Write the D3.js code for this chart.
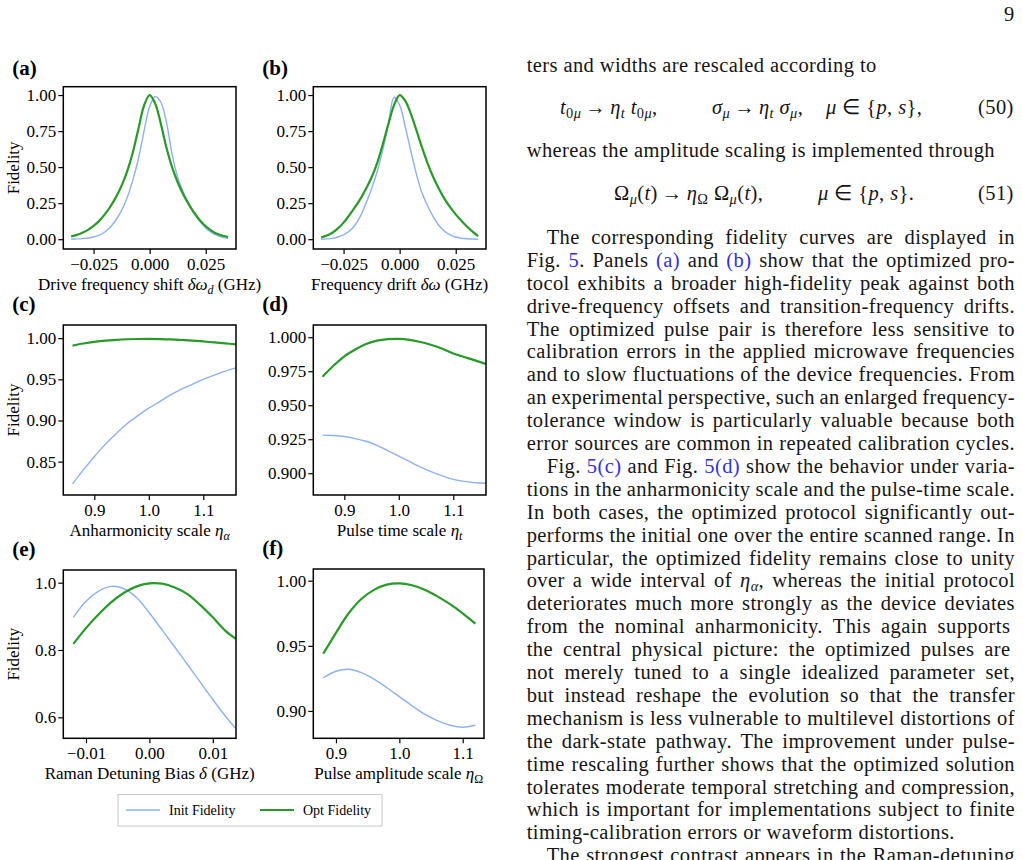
<!DOCTYPE html>
<html lang="en">
<head>
<meta charset="UTF-8" />
<script src="https://d3js.org/d3.v7.min.js"></script>
<title>Fidelity robustness scans</title>
<style>
  body { margin: 0; background: #fff; }
  #page { position: relative; width: 1023px; height: 860px; overflow: hidden; background: #fff; }
  svg { position: absolute; left: 0; top: 0; }
  .txt { position: absolute; font-family: "Liberation Serif", serif; font-size: 20.5px; letter-spacing: 0.4px;
         color: #151515; white-space: nowrap; line-height: 20px; }
  .lnk { color: #2f2fe6; }
  .sb { font-size: 0.7em; vertical-align: -0.25em; line-height: 0; }
  .ar { margin: 0 4px; }
</style>
</head>
<body>
<div id="page"></div>
<script>
// ---------------- data ----------------
// (a), (b): frequency offsets in GHz
const xAB = [-0.035, -0.0325, -0.03, -0.0275, -0.025, -0.0225, -0.02, -0.0175, -0.015, -0.0125, -0.01, -0.0075, -0.005, -0.0025,
  0, 0.0025, 0.005, 0.0075, 0.01, 0.0125, 0.015, 0.0175, 0.02, 0.0225, 0.025, 0.0275, 0.03, 0.0325, 0.035]
const initA = [0.000, 0.002, 0.004, 0.008, 0.015, 0.028, 0.05, 0.085, 0.135, 0.20, 0.29, 0.41, 0.56, 0.75,
  0.92, 0.99, 0.95, 0.81, 0.59, 0.43, 0.325, 0.245, 0.175, 0.12, 0.078, 0.047, 0.026, 0.013, 0.006]
const optA = [0.02, 0.03, 0.045, 0.065, 0.092, 0.127, 0.172, 0.227, 0.292, 0.372, 0.472, 0.602, 0.767, 0.927,
  1.00, 0.94, 0.80, 0.635, 0.50, 0.395, 0.31, 0.24, 0.18, 0.13, 0.09, 0.06, 0.037, 0.024, 0.015]
const initB = [0.000, 0.002, 0.006, 0.015, 0.03, 0.055, 0.095, 0.16, 0.25, 0.35, 0.47, 0.62, 0.80, 0.985,
  0.93, 0.78, 0.61, 0.45, 0.32, 0.23, 0.155, 0.095, 0.055, 0.03, 0.015, 0.007, 0.003, 0.001, 0.000]
const optB = [0.012, 0.025, 0.045, 0.075, 0.115, 0.165, 0.22, 0.28, 0.35, 0.43, 0.53, 0.66, 0.80, 0.93,
  1.00, 0.96, 0.87, 0.755, 0.635, 0.525, 0.43, 0.35, 0.28, 0.222, 0.172, 0.128, 0.088, 0.052, 0.022]

// (c), (d): scale factors
const xCD = [0.86, 0.88, 0.90, 0.92, 0.94, 0.96, 0.98, 1.00, 1.02, 1.04, 1.06, 1.08, 1.10, 1.12, 1.14, 1.16]
const initC = [0.823, 0.840, 0.856, 0.871, 0.884, 0.896, 0.906, 0.915, 0.923, 0.931, 0.938, 0.944, 0.950, 0.955, 0.960, 0.964]
const optC = [0.991, 0.9935, 0.9955, 0.997, 0.998, 0.9987, 0.999, 0.9991, 0.9989, 0.9985, 0.9978, 0.997, 0.996, 0.9948, 0.9937, 0.9925]
const initD = [0.928, 0.9278, 0.927, 0.9255, 0.9235, 0.9205, 0.9165, 0.9125, 0.9085, 0.9045, 0.901, 0.898, 0.8955, 0.894, 0.893, 0.8926]
const optD = [0.971, 0.979, 0.986, 0.991, 0.995, 0.9975, 0.9986, 0.9988, 0.998, 0.9965, 0.9943, 0.9915, 0.988, 0.9855, 0.983, 0.9803]

// (e): Raman detuning bias in GHz
const xE = [-0.012, -0.010, -0.008, -0.006, -0.004, -0.002, 0, 0.002, 0.004, 0.006, 0.008, 0.010, 0.012, 0.0136]
const initE = [0.897, 0.945, 0.975, 0.989, 0.982, 0.955, 0.910, 0.860, 0.809, 0.757, 0.705, 0.653, 0.603, 0.567]
const optE = [0.818, 0.865, 0.906, 0.942, 0.970, 0.989, 0.998, 0.997, 0.986, 0.966, 0.934, 0.897, 0.857, 0.834]

// (f): amplitude scale
const xF = [0.88, 0.90, 0.92, 0.94, 0.96, 0.98, 1.00, 1.02, 1.04, 1.06, 1.08, 1.10, 1.12]
const initF = [0.9255, 0.9305, 0.932, 0.9295, 0.9245, 0.918, 0.911, 0.904, 0.8975, 0.8925, 0.889, 0.8875, 0.889]
const optF = [0.944, 0.960, 0.975, 0.986, 0.993, 0.997, 0.998, 0.9965, 0.993, 0.988, 0.982, 0.975, 0.967]

// tick values / labels
const tickXAB = [-0.025, 0, 0.025], labXAB = ["\u22120.025", "0.000", "0.025"]
const tickYAB = [0, 0.25, 0.5, 0.75, 1], labYAB = ["0.00", "0.25", "0.50", "0.75", "1.00"]
const tickXScale = [0.9, 1.0, 1.1], labXScale = ["0.9", "1.0", "1.1"]
const tickYC = [0.85, 0.9, 0.95, 1.0], labYC = ["0.85", "0.90", "0.95", "1.00"]
const tickYD = [0.9, 0.925, 0.95, 0.975, 1.0], labYD = ["0.900", "0.925", "0.950", "0.975", "1.000"]
const tickXE = [-0.01, 0, 0.01], labXE = ["\u22120.01", "0.00", "0.01"]
const tickYE = [0.6, 0.8, 1.0], labYE = ["0.6", "0.8", "1.0"]
const tickYF = [0.9, 0.95, 1.0], labYF = ["0.90", "0.95", "1.00"]

const seriesNames = ["Init Fidelity", "Opt Fidelity"]
const panelTags = ["(a)", "(b)", "(c)", "(d)", "(e)", "(f)"]

// ---------------- layout ----------------
const W = 1023, H = 860
const blue = "#8cb2f2", green = "#279a27"
const serif = "'Liberation Serif', 'Times New Roman', serif"

const panels = [
  { x0: 63.3, x1: 236, y0: 86.7, y1: 249, xd: [-0.0385, 0.0385], yd: [-0.068, 1.058], xs: xAB, init: initA, opt: optA,
    xt: tickXAB, xl: labXAB, yt: tickYAB, yl: labYAB, ylab: true,
    xlabel: [["Drive frequency shift "], ["\u03b4\u03c9", "i"], ["d", "is"], [" (GHz)"]] },
  { x0: 313.3, x1: 486, y0: 86.7, y1: 249, xd: [-0.0385, 0.0385], yd: [-0.068, 1.058], xs: xAB, init: initB, opt: optB,
    xt: tickXAB, xl: labXAB, yt: tickYAB, yl: labYAB, ylab: false,
    xlabel: [["Frequency drift "], ["\u03b4\u03c9", "i"], [" (GHz)"]] },
  { x0: 63.3, x1: 236, y0: 325, y1: 495, xd: [0.8431, 1.16], yd: [0.8095, 1.016], xs: xCD, init: initC, opt: optC,
    xt: tickXScale, xl: labXScale, yt: tickYC, yl: labYC, ylab: true,
    xlabel: [["Anharmonicity scale "], ["\u03b7", "i"], ["\u03b1", "is"]] },
  { x0: 313.3, x1: 486, y0: 325, y1: 495, xd: [0.8431, 1.16], yd: [0.884, 1.009], xs: xCD, init: initD, opt: optD,
    xt: tickXScale, xl: labXScale, yt: tickYD, yl: labYD, ylab: false,
    xlabel: [["Pulse time scale "], ["\u03b7", "i"], ["t", "is"]] },
  { x0: 63.3, x1: 236, y0: 570, y1: 738.3, xd: [-0.01358, 0.01366], yd: [0.5376, 1.0377], xs: xE, init: initE, opt: optE,
    xt: tickXE, xl: labXE, yt: tickYE, yl: labYE, ylab: true,
    xlabel: [["Raman Detuning Bias "], ["\u03b4", "i"], [" (GHz)"]] },
  { x0: 313.3, x1: 484, y0: 569, y1: 738.3, xd: [0.8642, 1.1336], yd: [0.879, 1.009], xs: xF, init: initF, opt: optF,
    xt: tickXScale, xl: labXScale, yt: tickYF, yl: labYF, ylab: false,
    xlabel: [["Pulse amplitude scale "], ["\u03b7", "i"], ["\u03a9", "s"]] },
]

const page = d3.select("#page")
const svg = page.append("svg").attr("width", W).attr("height", H)

function addRich(text, parts, subSize) {
  let shifted = false
  parts.forEach(([t, f = ""]) => {
    const ts = text.append("tspan").text(t)
    if (f.includes("i")) ts.attr("font-style", "italic")
    if (f.includes("s")) {
      ts.attr("font-size", subSize)
      if (!shifted) { ts.attr("dy", 4); shifted = true }
    } else if (shifted) { ts.attr("dy", -4); shifted = false }
  })
}

panels.forEach((p, k) => {
  const x = d3.scaleLinear().domain(p.xd).range([p.x0, p.x1])
  const y = d3.scaleLinear().domain(p.yd).range([p.y1, p.y0])
  const g = svg.append("g")

  const styleAxis = a => {
    a.select(".domain").remove()
    a.attr("font-family", serif).attr("font-size", 17)
    a.selectAll(".tick line").attr("stroke", "#000").attr("stroke-width", 1.2)
    a.selectAll(".tick text").attr("fill", "#000")
  }
  g.append("g").attr("transform", `translate(0,${p.y1})`)
    .call(d3.axisBottom(x).tickValues(p.xt).tickFormat((d, i) => p.xl[i]).tickSize(5).tickPadding(4))
    .call(styleAxis)
  g.append("g").attr("transform", `translate(${p.x0},0)`)
    .call(d3.axisLeft(y).tickValues(p.yt).tickFormat((d, i) => p.yl[i]).tickSize(5).tickPadding(2))
    .call(styleAxis)

  const line = arr => d3.line().x((d, i) => x(p.xs[i])).y(d => y(d)).curve(d3.curveCatmullRom.alpha(0.5))(arr)
  g.append("path").attr("d", line(p.init)).attr("fill", "none").attr("stroke", blue).attr("stroke-width", 1.4)
  g.append("path").attr("d", line(p.opt)).attr("fill", "none").attr("stroke", green).attr("stroke-width", 2.2)

  g.append("rect").attr("x", p.x0).attr("y", p.y0).attr("width", p.x1 - p.x0).attr("height", p.y1 - p.y0)
    .attr("fill", "none").attr("stroke", "#000").attr("stroke-width", 1.5)

  const xl = g.append("text").attr("x", (p.x0 + p.x1) / 2).attr("y", p.y1 + 41)
    .attr("text-anchor", "middle").attr("font-family", serif).attr("font-size", 17)
  addRich(xl, p.xlabel, 12)

  if (p.ylab) {
    g.append("text").attr("transform", `translate(19,${(p.y0 + p.y1) / 2}) rotate(-90)`)
      .attr("text-anchor", "middle").attr("font-family", serif).attr("font-size", 17).text("Fidelity")
  }
  g.append("text").attr("x", p.x0 - 51).attr("y", p.y0 - 12 - (k < 2 ? 0 : 2))
    .attr("font-family", serif).attr("font-weight", "bold").attr("font-size", 21).text(panelTags[k])
})

// legend
const leg = svg.append("g")
leg.append("rect").attr("x", 118).attr("y", 794.5).attr("width", 264).attr("height", 31.5)
  .attr("fill", "#fff").attr("stroke", "#c8c8c8").attr("stroke-width", 1)
const legX = [126, 260]
seriesNames.forEach((s, i) => {
  leg.append("line").attr("x1", legX[i]).attr("x2", legX[i] + 34).attr("y1", 810).attr("y2", 810)
    .attr("stroke", i ? green : blue).attr("stroke-width", i ? 2.2 : 1.4)
  leg.append("text").attr("x", legX[i] + 43).attr("y", 815).attr("font-family", serif).attr("font-size", 14).text(s)
})

// ---------------- right text column ----------------
const colL = 526.7, colW = 488.3
const lnk = t => `<span class="lnk">${t}</span>`
const sb = t => `<span class="sb">${t}</span>`
const ar = `<span class="ar">\u2192</span>`

const bodyLines = [
  "The corresponding fidelity curves are displayed in",
  `Fig. ${lnk("5")}. Panels ${lnk("(a)")} and ${lnk("(b)")} show that the optimized pro-`,
  "tocol exhibits a broader high-fidelity peak against both",
  "drive-frequency offsets and transition-frequency drifts.",
  "The optimized pulse pair is therefore less sensitive to",
  "calibration errors in the applied microwave frequencies",
  "and to slow fluctuations of the device frequencies. From",
  "an experimental perspective, such an enlarged frequency-",
  "tolerance window is particularly valuable because both",
  "error sources are common in repeated calibration cycles.",
  `Fig. ${lnk("5(c)")} and Fig. ${lnk("5(d)")} show the behavior under varia-`,
  "tions in the anharmonicity scale and the pulse-time scale.",
  "In both cases, the optimized protocol significantly out-",
  "performs the initial one over the entire scanned range. In",
  "particular, the optimized fidelity remains close to unity",
  `over a wide interval of <i>\u03b7</i>${sb("<i>\u03b1</i>")}, whereas the initial protocol`,
  "deteriorates much more strongly as the device deviates",
  "from the nominal anharmonicity.  This again supports",
  "the central physical picture:  the optimized pulses are",
  "not merely tuned to a single idealized parameter set,",
  "but instead reshape the evolution so that the transfer",
  "mechanism is less vulnerable to multilevel distortions of",
  "the dark-state pathway. The improvement under pulse-",
  "time rescaling further shows that the optimized solution",
  "tolerates moderate temporal stretching and compression,",
  "which is important for implementations subject to finite",
  "timing-calibration errors or waveform distortions.",
  "The strongest contrast appears in the Raman-detuning",
]
const indented = [0, 10, 27]
const ragged = [26]

function putLine(html, left, baseline, justifyTo) {
  const d = page.append("div").attr("class", "txt")
    .style("left", left + "px").style("top", (baseline - 16.9) + "px").html(html)
  if (justifyTo) {
    const w = d.node().getBoundingClientRect().width
    const n = (html.replace(/<[^>]*>/g, "").match(/ /g) || []).length
    if (n) d.style("word-spacing", ((justifyTo - w) / n) + "px")
  }
  return d
}

bodyLines.forEach((s, k) => {
  const ind = indented.includes(k) ? 20 : 0
  putLine(s, colL + ind, 238.3 + 22.9 * k + 5.5, ragged.includes(k) ? 0 : colW - ind)
})

putLine("ters and widths are rescaled according to", colL, 72, 0)
putLine("whereas the amplitude scaling is implemented through", colL, 157, 0)

// display equations
putLine(`<i>t</i>${sb("0<i>\u03bc</i>")}${ar}<i>\u03b7</i>${sb("<i>t</i>")} <i>t</i>${sb("0<i>\u03bc</i>")},`, 560, 114, 0)
putLine(`<i>\u03c3</i>${sb("<i>\u03bc</i>")}${ar}<i>\u03b7</i>${sb("<i>t</i>")} <i>\u03c3</i>${sb("<i>\u03bc</i>")},`, 712, 114, 0)
putLine(`<i>\u03bc</i> \u2208 {<i>p</i>, <i>s</i>},`, 826, 114, 0)
putLine("(50)", 978, 114, 0)
putLine(`\u03a9${sb("<i>\u03bc</i>")}(<i>t</i>)${ar}<i>\u03b7</i>${sb("\u03a9")} \u03a9${sb("<i>\u03bc</i>")}(<i>t</i>),`, 614, 200, 0)
putLine(`<i>\u03bc</i> \u2208 {<i>p</i>, <i>s</i>}.`, 818, 200, 0)
putLine("(51)", 978, 200, 0)

// page number
putLine("9", 1004, 21, 0)
</script>
</body>
</html>
